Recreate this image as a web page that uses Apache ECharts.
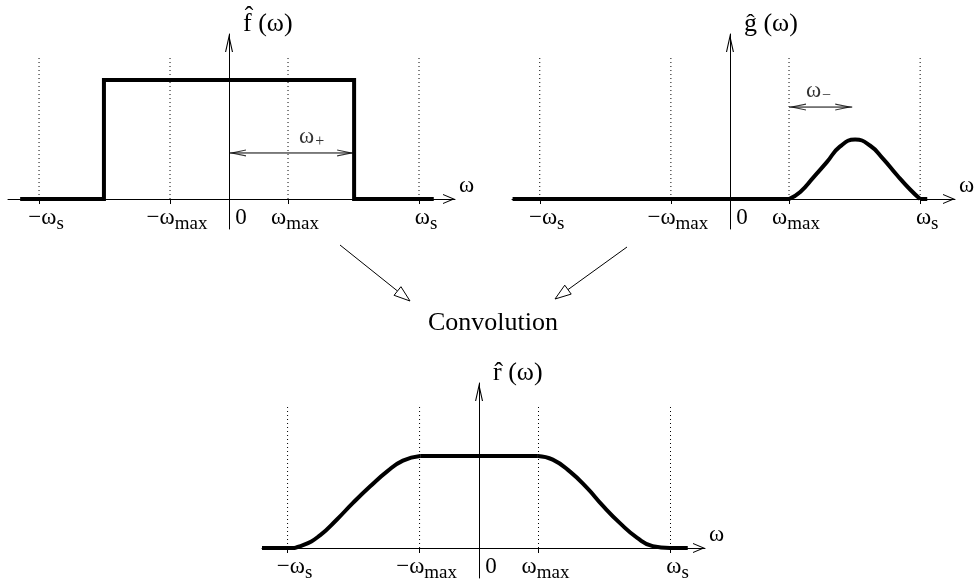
<!DOCTYPE html>
<html>
<head>
<meta charset="utf-8">
<script src="https://cdn.jsdelivr.net/npm/echarts@6.0.0/dist/echarts.min.js"></script>
</head>
<body style="margin:0;background:#fff">
<div id="main" style="width:976px;height:586px;"></div>
<script>
// frequencies in units of w_max
var W_MAX = 1, W_S = 3.22;
var tickValues = [-W_S, -W_MAX, W_MAX, W_S];
var labelValues = [-W_S, -W_MAX, 0, W_MAX, W_S];
var tickLabels = ['{m|−ω}{s|s}', '{m|−ω}{s|max}', '{z|0}', '{m|ω}{s|max}', '{m|ω}{s|s}'];
var guideTopTop = 1.21, guideTopBottom = 1.55;

// f^(w): box spectrum
var fX = [-3.54, -2.12, -2.12, 2.12, 2.12, 3.47];
var fY = [0, 0, 1, 1, 0, 0];

// g^(w): bump between w_max and w_s
var gBaseX = [-3.68, 1.0];
var gBumpX = [1.0, 1.19, 1.41, 1.64, 1.86, 2.12, 2.37, 2.59, 2.83, 3.05, 3.22];
var gBumpY = [0, 0.06, 0.18, 0.31, 0.44, 0.50, 0.45, 0.34, 0.20, 0.08, 0];
var gTailX = [3.22, 3.34];

// r^(w): result of the convolution
var rLeftX = [-3.65, -3.22, -2.96, -2.67, -2.39, -2.12, -1.83, -1.55, -1.28, -0.99];
var rLeftY = [0, 0, 0.03, 0.14, 0.31, 0.49, 0.67, 0.83, 0.95, 1.0];
var rFlatX = [-0.99, 0.99];
var rRightX = [0.99, 1.24, 1.53, 1.82, 2.08, 2.37, 2.66, 2.92, 3.21, 3.51];
var rRightY = [1.0, 0.96, 0.83, 0.65, 0.46, 0.27, 0.11, 0.02, 0, 0];

// arrow spans with their labels
var wPlus = {x: [0, 2.12], y: 0.387, label: '{w|ω}{p|+}', labelX: 1.40};
var wMinus = {x: [1.0, 2.07], y: 0.773, label: '{w|ω}{p|−}', labelX: 1.50};

var SERIF = 'Liberation Serif';

function pairs(xs, ys) {
    return xs.map(function (x, i) { return [x, ys[i]]; });
}

// open "V" arrow head pointing up; tip sits at the centre of the symbol box
function openArrow(w, l) {
    var d = 1.1 * 2 * l / w;
    return 'path://M' + (w / 2) + ',0 L' + (w / 2 + 0.01) + ',0 Z ' +
        'M' + (w / 2) + ',' + l + ' L' + w + ',' + (2 * l) + ' L' + (w - 1.1) + ',' + (2 * l) +
        ' L' + (w / 2) + ',' + (l + d) + ' L1.1,' + (2 * l) + ' L0,' + (2 * l) + ' Z';
}

var labelRich = {
    m: {fontSize: 23, fontFamily: SERIF, color: '#000', lineHeight: 24, verticalAlign: 'top'},
    s: {fontSize: 19, fontFamily: SERIF, color: '#000', lineHeight: 24, verticalAlign: 'top', padding: [9, 0, 0, 0]},
    z: {fontSize: 23, fontFamily: SERIF, color: '#000', lineHeight: 24, verticalAlign: 'top', padding: [0, 0, 0, 10]}
};

function xAxisOf(grid, min, max) {
    return {
        gridIndex: grid, type: 'value', min: min, max: max,
        axisLine: {onZero: true, lineStyle: {color: '#000', width: 1},
            symbol: ['none', openArrow(10, 12)], symbolSize: [10, 24]},
        axisTick: {show: true, customValues: tickValues, length: 5, lineStyle: {color: '#000', width: 1}},
        axisLabel: {
            customValues: labelValues, margin: -23, padding: [0, 0, 0, 14],
            formatter: function (v) {
                var i = labelValues.indexOf(v);
                return i >= 0 ? tickLabels[i] : '';
            },
            rich: labelRich
        },
        splitLine: {show: false},
        name: 'ω', nameLocation: 'end', nameGap: 4, nameMoveOverlap: false,
        nameTextStyle: {fontSize: 23, fontFamily: SERIF, color: '#000', align: 'left', verticalAlign: 'bottom',
            padding: [0, 0, 2, 0]}
    };
}

function yAxisOf(grid, min, max, letter) {
    return {
        gridIndex: grid, type: 'value', min: min, max: max,
        axisLine: {onZero: true, lineStyle: {color: '#000', width: 1},
            symbol: ['none', openArrow(8, 18)], symbolSize: [8, 36]},
        axisTick: {show: false}, axisLabel: {show: false}, splitLine: {show: false},
        name: letter + '\u0302 (ω)', nameLocation: 'end', nameGap: -4, nameMoveOverlap: false,
        nameTextStyle: {
            fontSize: 26, fontFamily: SERIF, color: '#000', lineHeight: 28,
            align: 'left', verticalAlign: 'bottom', padding: [0, 0, 0, 14]
        }
    };
}

function thick(grid, data, smooth) {
    return {
        type: 'line', xAxisIndex: grid, yAxisIndex: grid, data: data,
        smooth: smooth ? 0.5 : false,
        symbol: 'none', silent: true, z: 5,
        lineStyle: {color: '#000', width: 4, join: 'miter', cap: 'butt'}
    };
}

function guides(grid, top) {
    return tickValues.map(function (v) {
        return {
            type: 'line', xAxisIndex: grid, yAxisIndex: grid, data: [[v, 0], [v, top]],
            symbol: 'none', silent: true, z: 2,
            lineStyle: {color: '#000', width: 1, type: [1, 3]}
        };
    });
}

// thin double arrow: shaft, two open heads, and its label
function span(grid, s) {
    var head = openArrow(7, 17);
    return [
        {
            type: 'line', xAxisIndex: grid, yAxisIndex: grid, silent: true, z: 4,
            data: [[s.x[0], s.y], [s.x[1], s.y]], symbol: 'none',
            lineStyle: {color: '#000', width: 1}
        },
        {
            type: 'scatter', xAxisIndex: grid, yAxisIndex: grid, silent: true, z: 4,
            symbol: head, symbolSize: [7, 34], itemStyle: {color: '#000'},
            data: [{value: [s.x[0], s.y], symbolRotate: 90}, {value: [s.x[1], s.y], symbolRotate: -90}]
        },
        {
            type: 'scatter', xAxisIndex: grid, yAxisIndex: grid, silent: true, z: 4,
            symbolSize: 2, itemStyle: {color: 'transparent'},
            data: [[s.labelX, s.y]],
            label: {
                show: true, position: 'top', distance: 5, formatter: s.label,
                rich: {
                    w: {fontSize: 23, fontFamily: SERIF, color: '#000', lineHeight: 22, verticalAlign: 'top'},
                    p: {fontSize: 16, fontFamily: SERIF, color: '#000', lineHeight: 22, verticalAlign: 'top', padding: [9, 0, 0, 1]}
                }
            }
        }
    ];
}

function connector(x1, y1, x2, y2) {
    var dx = x2 - x1, dy = y2 - y1, len = Math.sqrt(dx * dx + dy * dy);
    var ux = dx / len, uy = dy / len;
    var bx = x2 - ux * 16, by = y2 - uy * 16;
    var px = -uy * 5.5, py = ux * 5.5;
    return [
        {type: 'line', shape: {x1: x1, y1: y1, x2: bx, y2: by}, style: {stroke: '#000', lineWidth: 1}},
        {type: 'polygon', shape: {points: [[x2, y2], [bx + px, by + py], [bx - px, by - py]]},
            style: {fill: '#fff', stroke: '#000', lineWidth: 1}}
    ];
}

var chart = echarts.init(document.getElementById('main'), null, {renderer: 'canvas'});

var series = []
    .concat(guides(0, guideTopTop), guides(1, guideTopTop), guides(2, guideTopBottom))
    .concat([
        thick(0, pairs(fX, fY), false),
        thick(1, gBaseX.map(function (x) { return [x, 0]; }), false),
        thick(1, pairs(gBumpX, gBumpY), true),
        thick(1, gTailX.map(function (x) { return [x, 0]; }), false),
        thick(2, pairs(rLeftX, rLeftY), true),
        thick(2, rFlatX.map(function (x) { return [x, 1]; }), false),
        thick(2, pairs(rRightX, rRightY), true)
    ])
    .concat(span(0, wPlus), span(1, wMinus));

chart.setOption({
    backgroundColor: '#fff',
    animation: false,
    grid: [
        {left: 8, right: 521, top: 34, bottom: 357, outerBoundsMode: 'none'},
        {left: 512, right: 21, top: 34, bottom: 357, outerBoundsMode: 'none'},
        {left: 262, right: 271, top: 383, bottom: 8, outerBoundsMode: 'none'}
    ],
    xAxis: [xAxisOf(0, -3.746, 3.83), xAxisOf(1, -3.69, 3.81), xAxisOf(2, -3.65, 3.80)],
    yAxis: [yAxisOf(0, -0.252, 1.387, 'f'), yAxisOf(1, -0.252, 1.387, 'g'), yAxisOf(2, -0.326, 1.793, 'r')],
    series: series,
    graphic: [
        {type: 'text', x: 493, y: 323, style: {text: 'Convolution', font: '26px "Liberation Serif"',
            fill: '#000', align: 'center', verticalAlign: 'middle'}}
    ].concat(connector(340, 245, 410, 301), connector(627, 247, 555, 299))
});
</script>
</body>
</html>
